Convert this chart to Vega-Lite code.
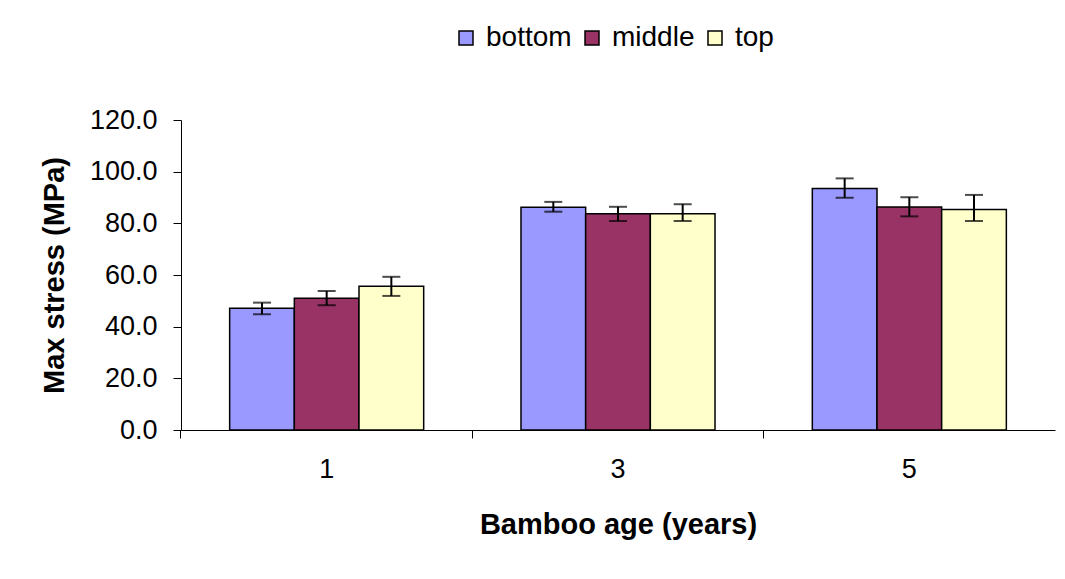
{
  "$schema": "https://vega.github.io/schema/vega-lite/v6.json",
  "width": 874,
  "height": 310,
  "autosize": {"type": "none"},
  "padding": {"left": 181, "top": 120, "right": 10, "bottom": 149},
  "background": "white",
  "config": {"view": {"stroke": null}, "font": "Liberation Sans"},
  "data": {"values": [
    {"age": "1", "pos": "bottom", "mean": 47.1, "lo": 44.8, "hi": 49.3},
    {"age": "1", "pos": "middle", "mean": 51.0, "lo": 48.3, "hi": 53.8},
    {"age": "1", "pos": "top", "mean": 55.6, "lo": 51.9, "hi": 59.3},
    {"age": "3", "pos": "bottom", "mean": 86.2, "lo": 84.5, "hi": 88.3},
    {"age": "3", "pos": "middle", "mean": 83.7, "lo": 80.9, "hi": 86.4},
    {"age": "3", "pos": "top", "mean": 83.7, "lo": 80.9, "hi": 87.4},
    {"age": "5", "pos": "bottom", "mean": 93.5, "lo": 89.9, "hi": 97.4},
    {"age": "5", "pos": "middle", "mean": 86.3, "lo": 82.7, "hi": 90.1},
    {"age": "5", "pos": "top", "mean": 85.4, "lo": 80.9, "hi": 91.0}
  ]},
  "resolve": {"axis": {"x": "independent"}},
  "layer": [
    {
      "mark": {"type": "bar", "stroke": "black", "strokeWidth": 1.5},
      "encoding": {
        "x": {"field": "age", "type": "nominal",
          "scale": {"paddingInner": 0.334, "paddingOuter": 0.167},
          "axis": {"orient": "bottom", "title": "Bamboo age (years)", "labelAngle": 0, "ticks": false,
            "domainColor": "black", "domainWidth": 1, "labelFontSize": 27, "labelColor": "black", "labelPadding": 26,
            "titleFontSize": 29, "titleFontWeight": "bold", "titleColor": "black", "titlePadding": 28}},
        "xOffset": {"field": "pos", "type": "nominal", "sort": ["bottom", "middle", "top"], "scale": {"paddingInner": 0, "paddingOuter": 0}},
        "y": {"field": "mean", "type": "quantitative",
          "scale": {"domain": [0, 120], "nice": false},
          "axis": {"title": "Max stress (MPa)", "values": [0, 20, 40, 60, 80, 100, 120], "format": ".1f", "grid": false,
            "domainColor": "black", "tickColor": "black", "tickSize": 8, "labelFontSize": 27, "labelColor": "black",
            "labelPadding": 16, "titleFontSize": 29, "titleFontWeight": "bold", "titleColor": "black", "titlePadding": 20}},
        "color": {"field": "pos", "type": "nominal",
          "scale": {"domain": ["bottom", "middle", "top"], "range": ["#9999FF", "#993366", "#FFFFCC"]},
          "legend": {"orient": "none", "legendX": 271, "legendY": -96, "direction": "horizontal", "title": null,
            "symbolType": "square", "symbolSize": 196, "symbolStrokeColor": "black", "symbolStrokeWidth": 1.5,
            "symbolOpacity": 1, "labelFontSize": 28, "labelColor": "black", "labelOffset": 6, "columnPadding": 6, "padding": 0}}
      }
    },
    {
      "mark": {"type": "rule", "color": "black", "strokeWidth": 2},
      "encoding": {
        "x": {"field": "age", "type": "nominal",
          "axis": {"orient": "bottom", "bandPosition": -0.2508, "labels": false, "title": null, "domain": false,
            "ticks": true, "tickSize": 8, "tickColor": "black"}},
        "xOffset": {"field": "pos", "type": "nominal", "sort": ["bottom", "middle", "top"]},
        "y": {"field": "lo", "type": "quantitative", "title": "Max stress (MPa)"},
        "y2": {"field": "hi"}
      }
    },
    {
      "mark": {"type": "tick", "color": "black", "size": 18, "thickness": 2},
      "encoding": {
        "x": {"field": "age", "type": "nominal", "axis": null},
        "xOffset": {"field": "pos", "type": "nominal", "sort": ["bottom", "middle", "top"]},
        "y": {"field": "lo", "type": "quantitative", "title": "Max stress (MPa)"}
      }
    },
    {
      "mark": {"type": "tick", "color": "black", "size": 18, "thickness": 2},
      "encoding": {
        "x": {"field": "age", "type": "nominal", "axis": null},
        "xOffset": {"field": "pos", "type": "nominal", "sort": ["bottom", "middle", "top"]},
        "y": {"field": "hi", "type": "quantitative", "title": "Max stress (MPa)"}
      }
    }
  ]
}
